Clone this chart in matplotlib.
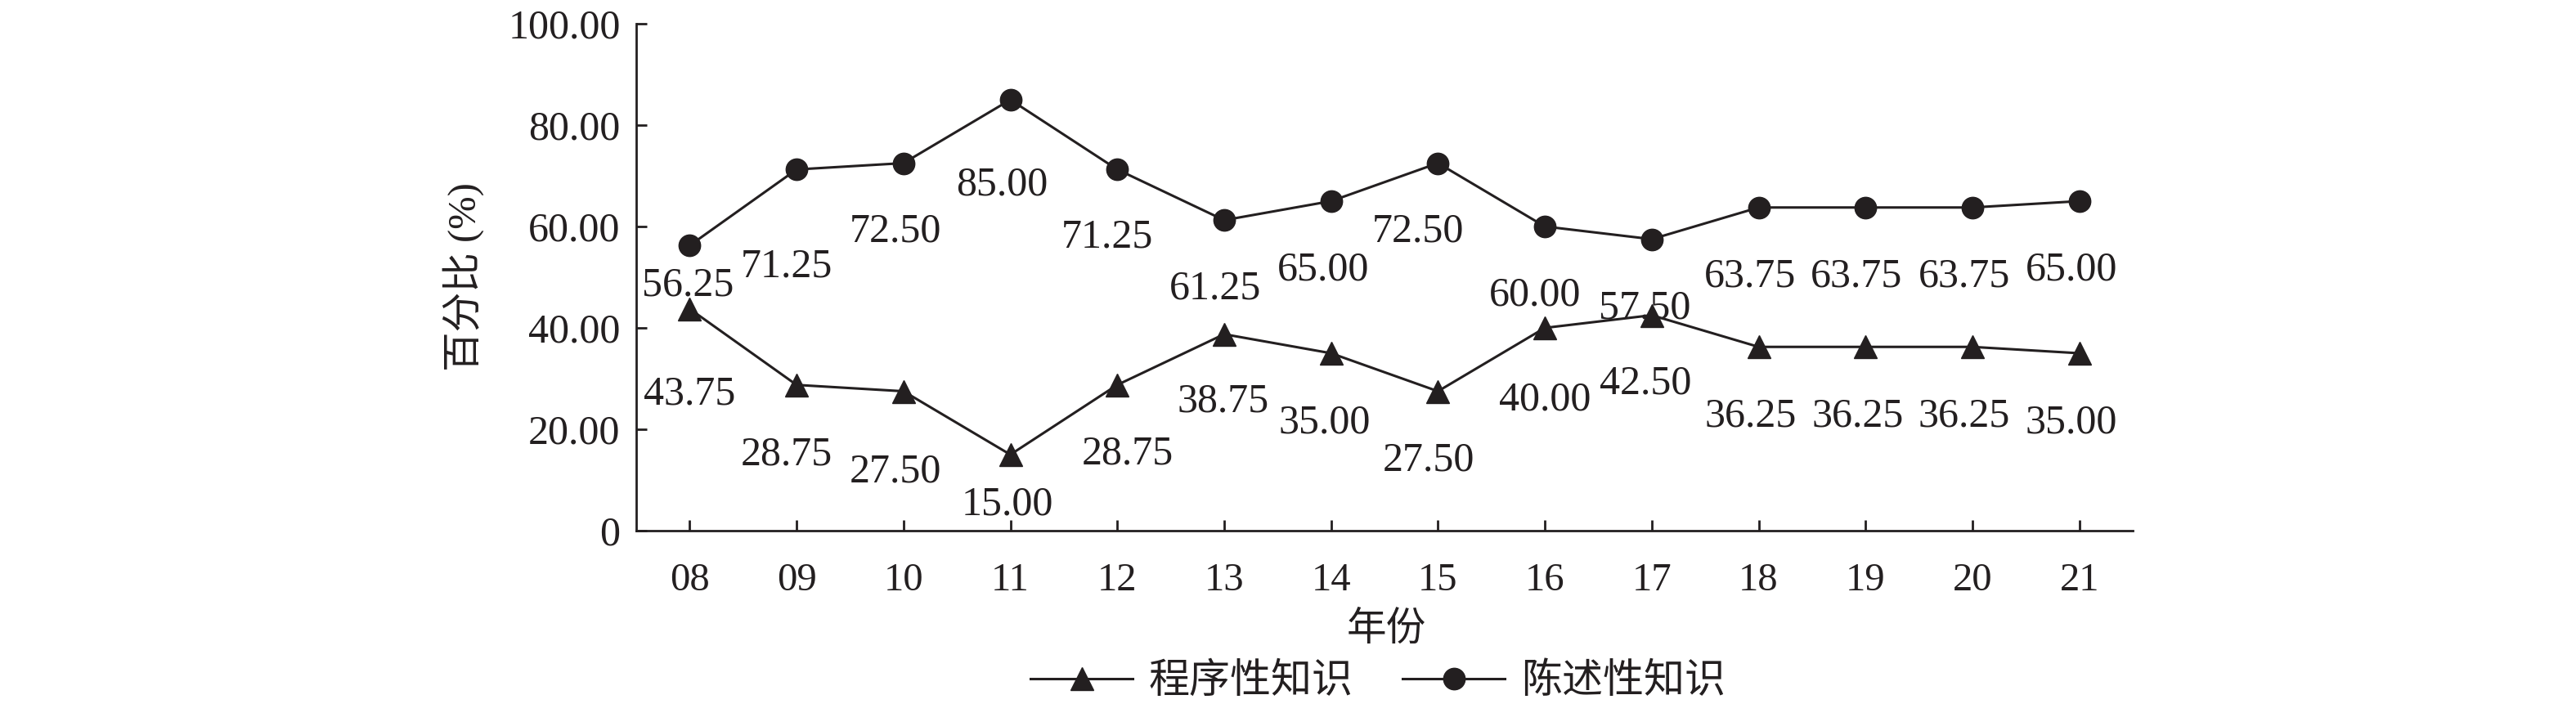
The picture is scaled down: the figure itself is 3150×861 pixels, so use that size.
import matplotlib.pyplot as plt
import numpy as np

plt.rcParams['font.family'] = ['Liberation Serif', 'Noto Sans CJK SC']

# ---------------- data ----------------
years = ['08', '09', '10', '11', '12', '13', '14', '15', '16', '17', '18', '19', '20', '21']
procedural = [43.75, 28.75, 27.50, 15.00, 28.75, 38.75, 35.00, 27.50, 40.00, 42.50, 36.25, 36.25, 36.25, 35.00]
declarative = [56.25, 71.25, 72.50, 85.00, 71.25, 61.25, 65.00, 72.50, 60.00, 57.50, 63.75, 63.75, 63.75, 65.00]
series_names = ['程序性知识', '陈述性知识']

# label offsets (pixels, label centre relative to point, positive = down)
circ_dx = [-2, -12, -10, -10, -12, -11, -10, -24, -12, -9, -10, -11, -10, -10]
circ_dy = [45, 115, 80, 100, 79, 80, 80, 80, 80, 80, 80, 80, 80, 80]
tri_dx = [0, -12, -10, -4, 13, -1, -8, -11, 0, -8, -10, -10, -10, -10]
tri_dy = [100, 81, 94, 57, 80, 78, 81, 80, 84, 80, 81, 81, 81, 81]

ink = '#231f20'
x = np.arange(len(years))

fig = plt.figure(figsize=(31.5, 8.61), dpi=100)
ax = fig.add_axes([778/3150, 1 - 649/861, 1830/3150, 620/861])

ax.plot(x, procedural, color=ink, lw=2.2, marker='^', markersize=20, label=series_names[0])
ax.plot(x, declarative, color=ink, lw=2.2, marker='o', markersize=19, label=series_names[1])

px = 0.72  # points per pixel at dpi 100
for i in range(len(x)):
    ax.annotate(f'{declarative[i]:.2f}', (x[i], declarative[i]), textcoords='offset points',
                xytext=(circ_dx[i]*px, -(circ_dy[i] + 16.5)*px), ha='center', va='baseline',
                fontsize=36, color=ink)
    ax.annotate(f'{procedural[i]:.2f}', (x[i], procedural[i]), textcoords='offset points',
                xytext=(tri_dx[i]*px, -(tri_dy[i] + 16.5)*px), ha='center', va='baseline',
                fontsize=36, color=ink)

ax.set_xlim(-0.5, 13.5)
ax.set_ylim(0, 100)
ax.set_xticks(x)
ax.set_xticklabels(years)
ax.set_yticks(np.arange(0, 101, 20))
ax.set_yticklabels(['0' if v == 0 else f'{v:.2f}' for v in np.arange(0, 101, 20)])

for s in ['top', 'right']:
    ax.spines[s].set_visible(False)
for s in ['left', 'bottom']:
    ax.spines[s].set_linewidth(2)
    ax.spines[s].set_color(ink)

ax.tick_params(axis='y', direction='in', length=9.4, width=2, pad=14, labelsize=36, colors=ink)
ax.tick_params(axis='x', direction='in', length=9.4, width=2, pad=28, labelsize=35, colors=ink)

ax.set_ylabel('百分比 (%)', fontsize=35, color=ink)
ax.yaxis.set_label_coords((592 - 778)/1830, 0.5)

fig.text(1695/3150, 1 - 770/861, '年份', fontsize=35, color=ink, ha='center', va='center')

fig.legend(loc='center', bbox_to_anchor=(1685/3150, 1 - 835/861), ncol=2, frameon=False,
           fontsize=36, handlelength=2.5, handletextpad=0.4, columnspacing=1.2,
           labelcolor=ink)

fig.savefig('out.png', dpi=100)
